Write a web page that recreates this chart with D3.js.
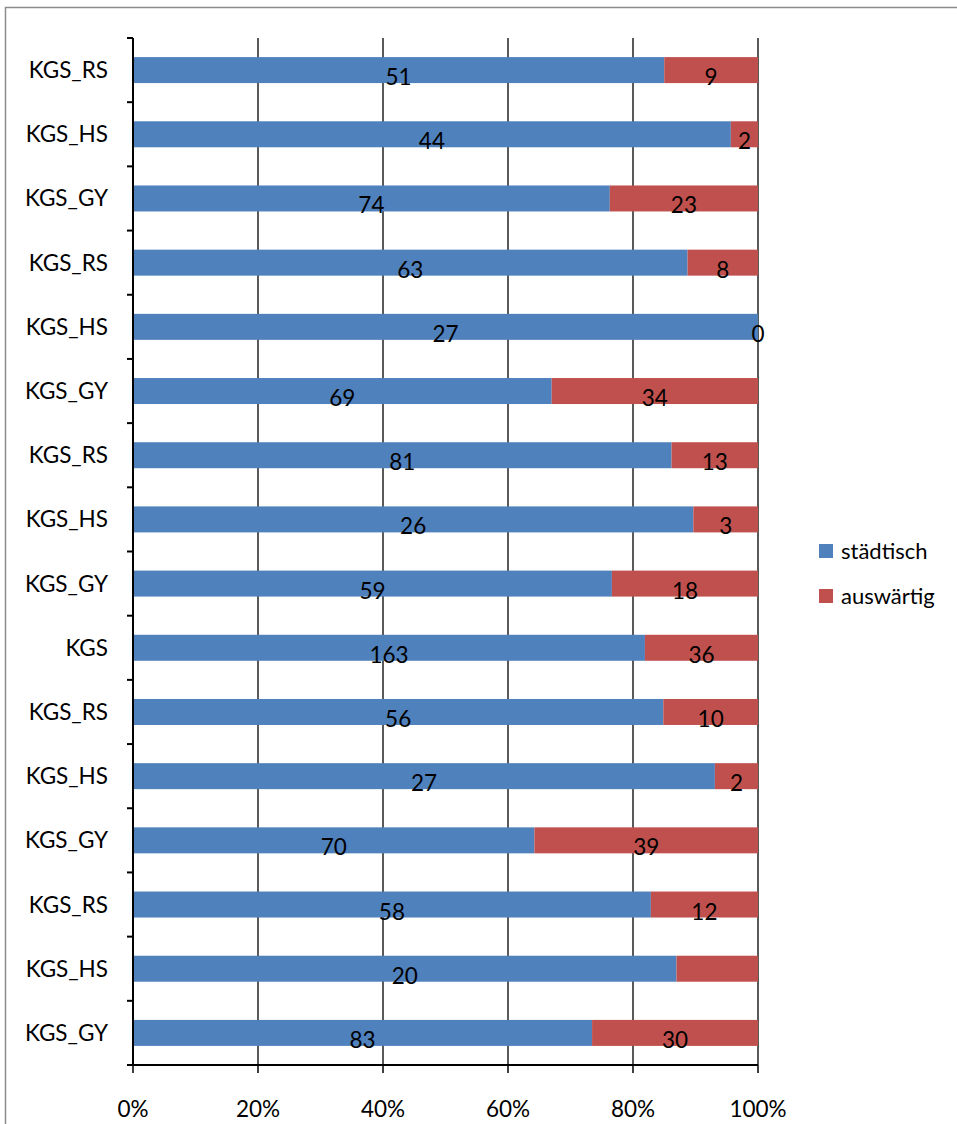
<!DOCTYPE html>
<html><head><meta charset="utf-8">
<script src="https://cdn.jsdelivr.net/npm/d3@7"></script>
<style>body{margin:0;background:#fff}svg{display:block}text{font-family:Lato,"Open Sans",sans-serif}</style>
</head><body>
<script>
const categories = ["KGS_RS","KGS_HS","KGS_GY","KGS_RS","KGS_HS","KGS_GY","KGS_RS","KGS_HS","KGS_GY","KGS","KGS_RS","KGS_HS","KGS_GY","KGS_RS","KGS_HS","KGS_GY"];
const staedtisch = [51,44,74,63,27,69,81,26,59,163,56,27,70,58,20,83];
const auswaertig = [9,2,23,8,0,34,13,3,18,36,10,2,39,12,3,30];
const hiddenAuswLabels = [14];
const seriesNames = ["städtisch","auswärtig"];
const colors = ["#4F81BD","#C0504D"];
const tickLabels = ["0%","20%","40%","60%","80%","100%"];

const W=957,H=1124;
const svg=d3.select("body").append("svg").attr("width",W).attr("height",H);
svg.append("rect").attr("x",5.5).attr("y",7.5).attr("width",W+10).attr("height",H+10).attr("fill","none").attr("stroke","#8c8c8c").attr("stroke-width",1.5);

const x=d3.scaleLinear().domain([0,1]).range([133,758]);
const idx=d3.range(categories.length);
const y=d3.scaleBand().domain(idx).range([38,1065]).paddingInner(0.595).paddingOuter(0.2975);

// gridlines
svg.append("g").selectAll("line").data(d3.range(1,6)).join("line")
  .attr("x1",d=>x(d/5)).attr("x2",d=>x(d/5)).attr("y1",38).attr("y2",1065)
  .attr("stroke","#000").attr("stroke-width",1.3);

const rows=idx.map(i=>{const t=staedtisch[i]+auswaertig[i];return {i,a:staedtisch[i]/t,b:auswaertig[i]/t}});
const g=svg.append("g");
g.selectAll(".s").data(rows).join("rect").attr("x",x(0)).attr("y",d=>y(d.i)).attr("width",d=>x(d.a)-x(0)).attr("height",y.bandwidth()).attr("fill",colors[0]);
g.selectAll(".r").data(rows).join("rect").attr("x",d=>x(d.a)).attr("y",d=>y(d.i)).attr("width",d=>x(1)-x(d.a)).attr("height",y.bandwidth()).attr("fill",colors[1]);

const lab=svg.append("g").attr("font-size",22.5).attr("text-anchor","middle").attr("fill","#000");
lab.selectAll(".ls").data(rows).join("text").attr("x",d=>x(d.a/2)).attr("y",d=>y(d.i)+y.bandwidth()/2+15).text(d=>staedtisch[d.i]);
lab.selectAll(".lr").data(rows.filter(d=>!hiddenAuswLabels.includes(d.i))).join("text").attr("x",d=>x(d.a+d.b/2)).attr("y",d=>y(d.i)+y.bandwidth()/2+15).text(d=>auswaertig[d.i]);

// y axis
const step=y.step();
svg.append("line").attr("x1",133).attr("x2",133).attr("y1",38).attr("y2",1065).attr("stroke","#000").attr("stroke-width",2);
svg.append("g").selectAll("line").data(d3.range(0,17)).join("line")
  .attr("x1",127).attr("x2",133).attr("y1",d=>38+d*step).attr("y2",d=>38+d*step).attr("stroke","#000").attr("stroke-width",2);
svg.append("g").attr("font-size",22.5).attr("text-anchor","end").selectAll("text").data(idx).join("text")
  .attr("x",108).attr("y",d=>y(d)+y.bandwidth()/2+8).text(d=>categories[d]);

// x axis
svg.append("line").attr("x1",127).attr("x2",758).attr("y1",1065).attr("y2",1065).attr("stroke","#000").attr("stroke-width",2);
svg.append("g").selectAll("line").data(d3.range(0,6)).join("line")
  .attr("x1",d=>x(d/5)).attr("x2",d=>x(d/5)).attr("y1",1065).attr("y2",1073).attr("stroke","#000").attr("stroke-width",1.5);
svg.append("g").attr("font-size",22.5).attr("text-anchor","middle").selectAll("text").data(tickLabels).join("text")
  .attr("x",(d,i)=>x(i/5)).attr("y",1117).text(d=>d);

// legend
const lg=svg.append("g").attr("font-size",22);
seriesNames.forEach((n,i)=>{
  lg.append("rect").attr("x",819).attr("y",544+i*45).attr("width",14).attr("height",14).attr("fill",colors[i]);
  lg.append("text").attr("x",841).attr("y",559+i*45).text(n);
});
</script>
</body></html>
